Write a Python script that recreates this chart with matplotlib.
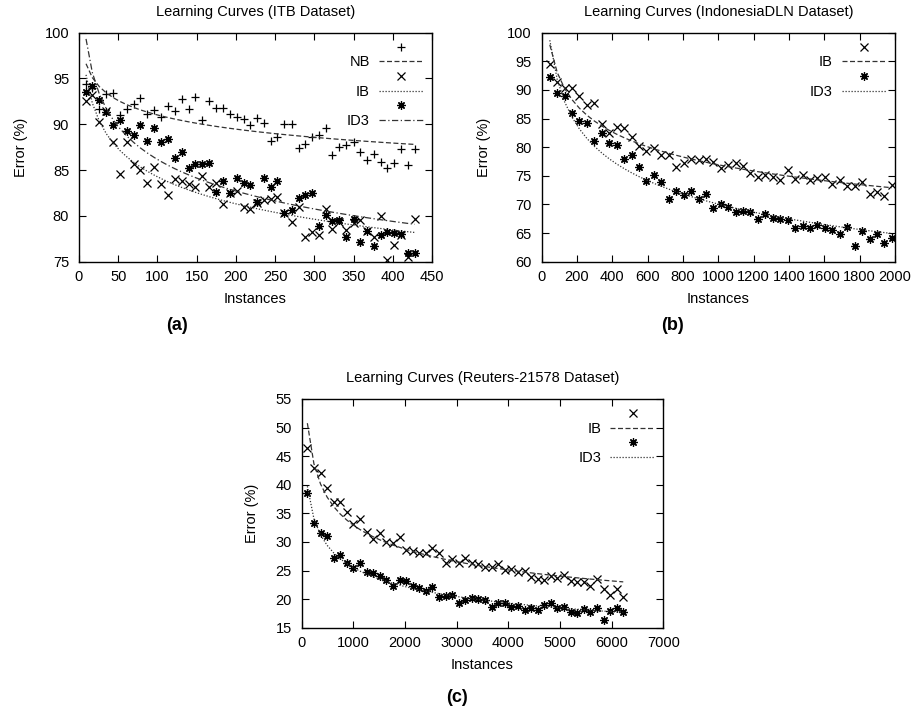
import numpy as np
import matplotlib
matplotlib.use("Agg")
import matplotlib.pyplot as plt
from matplotlib.lines import Line2D

plt.rcParams['font.family'] = ['Liberation Sans', 'DejaVu Sans']

# (a) ITB dataset
xa = [9, 17, 26, 35, 44, 52, 61, 70, 78, 87, 96, 105, 113, 122, 131, 140, 148,
      157, 166, 175, 183, 192, 201, 210, 218, 227, 236, 245, 253, 262, 271, 280,
      288, 297, 306, 315, 323, 332, 341, 350, 358, 367, 376, 385, 393, 402, 411,
      420, 428]
nb_a = [94.4, 94.0, 91.7, 93.3, 93.4, 91.0, 91.7, 92.2, 92.9, 91.1,
        91.6, 90.8, 92.0, 91.4, 92.8, 91.7, 93.0, 90.5, 92.5, 91.8,
        91.8, 91.1, 90.8, 90.6, 89.9, 90.7, 90.1, 88.2, 88.6, 90.0,
        90.0, 87.4, 87.8, 88.6, 88.8, 89.6, 86.6, 87.5, 87.7, 88.1,
        87.0, 86.1, 86.8, 85.9, 85.2, 85.8, 87.3, 85.6, 87.3]
ib_a = [92.5, 93.2, 90.3, 91.5, 88.1, 84.6, 88.1, 85.7, 85.0, 83.6,
        85.3, 83.5, 82.3, 84.0, 83.8, 83.5, 83.1, 84.3, 83.1, 83.6,
        81.3, 82.5, 82.7, 81.0, 80.7, 81.4, 81.7, 81.8, 82.1, 80.3,
        79.3, 81.0, 77.7, 78.2, 77.9, 80.8, 78.6, 79.3, 78.5, 79.2,
        79.5, 78.4, 77.7, 80.0, 75.2, 76.8, 77.9, 75.5, 79.7]
id3_a = [93.5, 94.2, 92.7, 91.3, 89.9, 90.5, 89.3, 88.8, 89.9, 88.2,
         89.6, 88.1, 88.4, 86.3, 87.0, 85.2, 85.7, 85.7, 85.8, 82.6,
         83.8, 82.5, 84.1, 83.6, 83.4, 81.5, 84.1, 83.2, 83.8, 80.3,
         80.6, 82.0, 82.3, 82.5, 78.9, 80.1, 79.4, 79.5, 77.7, 79.7,
         77.1, 78.3, 76.7, 77.9, 78.2, 78.1, 78.0, 75.9, 75.9]

# (b) IndonesiaDLN dataset
xb = [46, 88, 130, 172, 214, 256, 299, 341, 383, 425, 467, 509, 551, 593, 635,
      677, 719, 762, 804, 846, 888, 930, 972, 1014, 1056, 1098, 1140, 1182,
      1225, 1267, 1309, 1351, 1393, 1435, 1477, 1519, 1561, 1603, 1645, 1688,
      1730, 1772, 1814, 1856, 1898, 1940, 1982]
ib_b = [94.5, 91.4, 90.4, 90.3, 89.0, 87.4, 87.7, 84.0, 82.4, 83.6,
        83.3, 81.8, 80.2, 79.4, 79.8, 78.6, 78.6, 76.5, 77.2, 77.9,
        77.8, 78.0, 77.4, 76.3, 76.8, 77.2, 76.7, 75.4, 74.8, 75.2,
        74.8, 74.3, 76.0, 74.4, 75.2, 74.3, 74.6, 74.8, 73.5, 74.3,
        73.2, 73.2, 74.0, 71.9, 72.2, 71.5, 73.4]
id3_b = [92.3, 89.4, 89.0, 85.9, 84.6, 84.3, 81.1, 82.5, 80.8, 80.3,
         78.0, 78.7, 76.5, 74.1, 75.1, 73.9, 70.9, 72.4, 71.6, 72.3,
         70.9, 71.9, 69.4, 70.0, 69.6, 68.7, 68.9, 68.6, 67.4, 68.4,
         67.6, 67.5, 67.2, 65.8, 66.3, 65.9, 66.4, 65.9, 65.5, 64.8,
         66.1, 62.8, 65.4, 64.0, 64.8, 63.3, 64.2]

# (c) Reuters-21578 dataset
xc = [110, 237, 365, 492, 620, 747, 874, 1002, 1129, 1257,
      1384, 1511, 1639, 1766, 1894, 2021, 2148, 2276, 2403, 2531,
      2658, 2785, 2913, 3040, 3168, 3295, 3422, 3550, 3677, 3805,
      3932, 4059, 4187, 4314, 4442, 4569, 4696, 4824, 4951, 5079,
      5206, 5333, 5461, 5588, 5716, 5843, 5970, 6098, 6225]
ib_c = [46.5, 43.0, 42.0, 39.4, 37.0, 36.9, 35.2, 33.1, 34.1, 31.8,
        30.6, 31.5, 30.0, 29.8, 30.8, 28.6, 28.4, 28.0, 28.1, 29.0,
        28.1, 26.4, 27.0, 26.4, 27.2, 26.4, 26.1, 25.6, 25.7, 26.1,
        25.1, 25.2, 24.8, 25.0, 23.9, 23.6, 23.3, 24.0, 23.7, 24.2,
        23.2, 23.0, 23.0, 22.3, 23.6, 21.7, 20.8, 21.7, 20.3]
id3_c = [38.5, 33.4, 31.5, 31.1, 27.2, 27.8, 26.4, 25.4, 26.4, 24.7,
         24.5, 24.0, 23.3, 22.3, 23.3, 23.2, 22.3, 21.9, 21.4, 22.2,
         20.3, 20.6, 20.8, 19.4, 19.8, 20.2, 20.0, 19.8, 18.7, 19.4,
         19.4, 18.7, 18.8, 18.1, 18.4, 18.1, 19.0, 19.3, 18.5, 18.7,
         17.8, 17.5, 18.2, 17.8, 18.4, 16.3, 17.9, 18.4, 17.7]

ASTER = (8, 2, 0)
DASH = (0, (4, 2))
DOT = (0, (1, 1.4))
DASHDOT = (0, (5, 2, 1, 2))


def power_fit(x, y):
    # least squares fit of y = a * x^b, scanning the exponent
    x = np.asarray(x, float)
    y = np.asarray(y, float)
    best = None
    for b in np.linspace(-1.0, 0.0, 4001):
        xp = x ** b
        a = (y * xp).sum() / (xp * xp).sum()
        r = ((y - a * xp) ** 2).sum()
        if best is None or r < best[0]:
            best = (r, a, b)
    return best[1] * x ** best[2]


def panel(ax, x, series, title, xlim, xticks, ylim, yticks):
    handles = []
    for name, y, marker, ls in series:
        ax.plot(x, y, linestyle='none', marker=marker, ms=6, mew=0.9,
                color='black', mfc='none')
        ax.plot(x, power_fit(x, y), linestyle=ls, lw=0.9, color='#333333')
        handles.append(Line2D([], [], linestyle='none', marker=marker, ms=6,
                              mew=0.9, color='black', label=' '))
        handles.append(Line2D([], [], linestyle=ls, lw=0.9, color='#333333',
                              label=name))
    ax.set_xlim(*xlim)
    ax.set_ylim(*ylim)
    ax.set_xticks(xticks)
    ax.set_yticks(yticks)
    ax.tick_params(direction='in', top=True, right=True, length=5, width=0.8,
                   labelsize=10.5)
    ax.tick_params(axis='x', pad=6)
    ax.tick_params(axis='y', pad=7)
    for s in ax.spines.values():
        s.set_linewidth(1.0)
    ax.set_title(title, fontsize=10.5, pad=12)
    ax.set_xlabel('Instances', fontsize=10.5, labelpad=6)
    ax.set_ylabel('Error (%)', fontsize=10.5, labelpad=12)
    ax.legend(handles=handles, loc='upper right', frameon=False,
              markerfirst=False, fontsize=10.5, handlelength=3.1,
              handletextpad=0.6, labelspacing=0.05, borderaxespad=0.15)


fig = plt.figure(figsize=(9.15, 7.13), dpi=100)

ax1 = fig.add_axes([0.0863, 0.633, 0.3858, 0.3212])
panel(ax1, xa, [('NB', nb_a, '+', DASH), ('IB', ib_a, 'x', DOT),
                ('ID3', id3_a, ASTER, DASHDOT)],
      'Learning Curves (ITB Dataset)', (0, 450), range(0, 451, 50),
      (75, 100), range(75, 101, 5))

ax2 = fig.add_axes([0.592, 0.633, 0.3861, 0.3212])
panel(ax2, xb, [('IB', ib_b, 'x', DASH), ('ID3', id3_b, ASTER, DOT)],
      'Learning Curves (IndonesiaDLN Dataset)', (0, 2000),
      range(0, 2001, 200), (60, 100), range(60, 101, 5))

ax3 = fig.add_axes([0.3297, 0.1196, 0.3952, 0.3208])
panel(ax3, xc, [('IB', ib_c, 'x', DASH), ('ID3', id3_c, ASTER, DOT)],
      'Learning Curves (Reuters-21578 Dataset)', (0, 7000),
      range(0, 7001, 1000), (15, 55), range(15, 56, 5))

fig.text(177 / 915, 1 - 325 / 713, '(a)', fontsize=13, fontweight='bold',
         ha='center', va='center')
fig.text(672 / 915, 1 - 325 / 713, '(b)', fontsize=13, fontweight='bold',
         ha='center', va='center')
fig.text(457 / 915, 1 - 697 / 713, '(c)', fontsize=13, fontweight='bold',
         ha='center', va='center')

fig.savefig('out.png', dpi=100)
